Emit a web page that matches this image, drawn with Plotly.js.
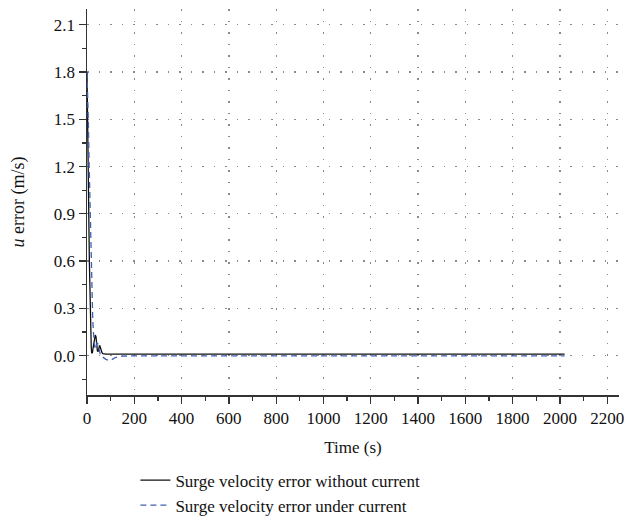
<!DOCTYPE html>
<html>
<head>
<meta charset="utf-8">
<script src="https://cdn.plot.ly/plotly-3.0.1.min.js"></script>
<style>html,body{margin:0;padding:0;background:#fff;}#chart{width:639px;height:532px;}</style>
</head>
<body>
<div id="chart"></div>
<script>
// Surge velocity error without current (solid black)
const timeNoCurrent = [0, 2, 4, 6, 8, 10, 12, 14, 16, 18, 20, 23, 27, 31, 35, 38, 41, 44, 47, 50, 53, 56, 59, 63, 67, 72, 80, 200, 600, 1000, 1400, 1800, 2020];
const errNoCurrent  = [1.80, 1.62, 1.38, 1.10, 0.84, 0.60, 0.40, 0.24, 0.12, 0.05, 0.015, 0.02, 0.06, 0.11, 0.13, 0.12, 0.07, 0.03, 0.025, 0.045, 0.065, 0.055, 0.035, 0.02, 0.012, 0.01, 0.01, 0.01, 0.01, 0.01, 0.01, 0.01, 0.01];

// Surge velocity error under current (dashed blue)
const timeCurrent = [0, 3, 6, 9, 12, 15, 18, 21, 24, 27, 30, 34, 38, 42, 46, 50, 55, 60, 70, 80, 90, 100, 110, 120, 135, 150, 200, 600, 1000, 1400, 1800, 2020];
const errCurrent  = [1.80, 1.66, 1.46, 1.22, 0.98, 0.76, 0.56, 0.39, 0.25, 0.15, 0.08, 0.04, 0.05, 0.08, 0.075, 0.045, 0.015, -0.002, -0.014, -0.024, -0.03, -0.029, -0.021, -0.012, -0.006, -0.003, -0.002, -0.002, -0.002, -0.002, -0.002, -0.002];

const xTicks = [0, 200, 400, 600, 800, 1000, 1200, 1400, 1600, 1800, 2000, 2200];
const yTicks = [0.0, 0.3, 0.6, 0.9, 1.2, 1.5, 1.8, 2.1];
const yTickLabels = ["0.0", "0.3", "0.6", "0.9", "1.2", "1.5", "1.8", "2.1"];

const serif = "Liberation Serif, Times New Roman, serif";

const traces = [
  {
    x: timeNoCurrent, y: errNoCurrent, type: "scatter", mode: "lines",
    name: "Surge velocity error without current",
    line: {color: "#111111", width: 1.3}
  },
  {
    x: timeCurrent, y: errCurrent, type: "scatter", mode: "lines",
    name: "Surge velocity error under current",
    line: {color: "#3f62b5", width: 1.3, dash: "6px,4px"}
  }
];

const layout = {
  width: 639, height: 532,
  margin: {l: 87, r: 20, t: 9, b: 133},
  paper_bgcolor: "#ffffff", plot_bgcolor: "#ffffff",
  font: {family: serif, size: 17, color: "#111"},
  showlegend: true,
  legend: {
    x: 0.091, xanchor: "left", y: -0.175, yanchor: "top",
    orientation: "v", font: {family: serif, size: 17, color: "#111"},
    tracegroupgap: 0, itemwidth: 30, bgcolor: "rgba(0,0,0,0)"
  },
  xaxis: {
    range: [0, 2250],
    tickmode: "array", tickvals: xTicks, ticktext: xTicks.map(String),
    ticks: "outside", ticklen: 7, tickwidth: 1.3, tickcolor: "#333",
    showline: true, linecolor: "#333", linewidth: 1.5,
    showgrid: true, gridcolor: "#8a8a8a", griddash: "1.5px,10px", gridwidth: 1.3,
    zeroline: false,
    minor: {tickmode: "array", tickvals: [100, 300, 500, 700, 900, 1100, 1300, 1500, 1700, 1900, 2100], ticks: "outside", ticklen: 4, tickcolor: "#333", showgrid: false},
    title: {text: "Time (s)", font: {family: serif, size: 17}, standoff: 14},
    tickfont: {family: serif, size: 17}
  },
  yaxis: {
    range: [-0.25, 2.2],
    tickmode: "array", tickvals: yTicks, ticktext: yTickLabels,
    ticks: "outside", ticklen: 7, tickwidth: 1.3, tickcolor: "#333",
    showline: true, linecolor: "#333", linewidth: 1.5,
    showgrid: true, gridcolor: "#8a8a8a", griddash: "1.5px,10px", gridwidth: 1.3,
    zeroline: false,
    minor: {tickmode: "array", tickvals: [-0.15, 0.15, 0.45, 0.75, 1.05, 1.35, 1.65, 1.95], ticks: "outside", ticklen: 4, tickcolor: "#333", showgrid: false},
    title: {text: "<i>u</i> error (m/s)", font: {family: serif, size: 18}, standoff: 24},
    tickfont: {family: serif, size: 17}
  }
};

Plotly.newPlot("chart", traces, layout, {displayModeBar: false, staticPlot: true});
</script>
</body>
</html>
